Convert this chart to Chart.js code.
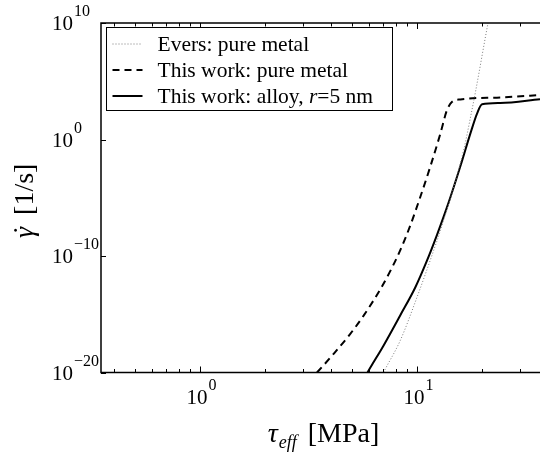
<!DOCTYPE html>
<html>
<head>
<meta charset="utf-8">
<script src="https://cdn.jsdelivr.net/npm/chart.js@4.4.1/dist/chart.umd.min.js"></script>
<style>
  html, body { margin: 0; padding: 0; background: #fff; }
  canvas { display: block; }
</style>
</head>
<body>
<canvas id="rateChart" width="540" height="452"></canvas>
<script>
// Values: tau_eff [MPa] vs strain rate [1/s]
const eversTau  = [7.01, 7.21, 8.37, 10.0, 11.94, 12.82, 16.41, 17.78, 18.62, 21.09, 21.26];
const eversRate = [1e-20, 2.7e-20, 5.4e-18, 2.8e-14, 3.0e-10, 1.5e-8, 0.12, 160, 1.3e4, 4.6e9, 1e10];

const pureTau  = [3.46, 3.52, 4.12, 4.92, 5.68, 6.78, 7.53, 8.37, 9.31, 10.35, 11.51, 12.82, 13.74, 14.52, 15.85, 24.2, 36.9];
const pureRate = [1e-20, 1.4e-20, 3.8e-19, 2.0e-17, 7.6e-16, 1.4e-13, 5.0e-12, 3.0e-10, 4.0e-8, 1.1e-5, 4.4e-3, 3.2, 320, 1700, 2750, 4100, 6500];

const alloyTau  = [5.92, 5.98, 7.01, 8.37, 9.82, 11.12, 12.36, 14.0, 15.85, 17.62, 18.92, 19.95, 24.2, 36.9];
const alloyRate = [1e-20, 1.4e-20, 2.0e-18, 7.9e-16, 2.0e-13, 4.0e-11, 6.3e-9, 4.0e-6, 5.0e-3, 3.2, 170, 1070, 1380, 2900];

const seriesLabels = ['Evers: pure metal', 'This work: pure metal', 'This work: alloy, '];

// tick labels (powers of ten)
const xTicks = [1, 10];
const xTickExp = ['0', '1'];
const yTicks = [1e-20, 1e-10, 1, 1e10];
const yTickExp = ['\u221220', '\u221210', '0', '10'];

const SERIF = '"Liberation Serif", "Times New Roman", serif';

function pairs(xs, ys) {
    return xs.map((x, i) => ({ x: x, y: ys[i] }));
}

// "10" with a raised exponent
function drawPow(ctx, exp, x, baseline, align) {
    ctx.font = '21px ' + SERIF;
    const wBase = ctx.measureText('10').width;
    ctx.font = '16px ' + SERIF;
    const wExp = ctx.measureText(exp).width;
    let start = x;
    if (align === 'center') start = x - (wBase + wExp) / 2;
    ctx.textAlign = 'left';
    ctx.textBaseline = 'alphabetic';
    ctx.font = '21px ' + SERIF;
    ctx.fillText('10', start, baseline);
    ctx.font = '16px ' + SERIF;
    ctx.fillText(exp, start + wBase + 1, baseline - 14);
}

const axesPlugin = {
    id: 'matlabAxes',
    afterDraw(chart) {
        const ctx = chart.ctx;
        const area = chart.chartArea;
        const xs = chart.scales.x;
        const ys = chart.scales.y;
        ctx.save();
        ctx.strokeStyle = '#000';
        ctx.fillStyle = '#000';
        ctx.lineWidth = 1.5;

        // box: top, left, bottom (right edge is cut off)
        ctx.beginPath();
        ctx.moveTo(area.right, area.top);
        ctx.lineTo(area.left, area.top);
        ctx.lineTo(area.left, area.bottom);
        ctx.lineTo(area.right, area.bottom);
        ctx.stroke();

        // x ticks, inward on bottom and top
        ctx.lineWidth = 1;
        for (let d = -1; d <= 1; d++) {
            for (let m = 1; m <= 9; m++) {
                const v = m * Math.pow(10, d);
                if (v < xs.min || v > xs.max) continue;
                const px = Math.round(xs.getPixelForValue(v)) + 0.5;
                const len = m === 1 ? 6 : 3.5;
                ctx.beginPath();
                ctx.moveTo(px, area.bottom);
                ctx.lineTo(px, area.bottom - len);
                ctx.moveTo(px, area.top);
                ctx.lineTo(px, area.top + len);
                ctx.stroke();
            }
        }
        // y ticks on labelled decades
        yTicks.forEach(v => {
            const py = Math.round(ys.getPixelForValue(v)) + 0.5;
            ctx.beginPath();
            ctx.moveTo(area.left, py);
            ctx.lineTo(area.left + 5, py);
            ctx.stroke();
        });

        // tick labels
        xTicks.forEach((v, i) => {
            drawPow(ctx, xTickExp[i], xs.getPixelForValue(v) + 1, area.bottom + 31, 'center');
        });
        yTicks.forEach((v, i) => {
            drawPow(ctx, yTickExp[i], area.left - 49, ys.getPixelForValue(v) + 7, 'left');
        });

        // x title: tau_eff [MPa]
        const cx = (area.left + area.right) / 2 + 3;
        ctx.textBaseline = 'alphabetic';
        ctx.textAlign = 'left';
        ctx.font = 'italic 28px ' + SERIF;
        const wTau = ctx.measureText('\u03c4').width;
        ctx.font = 'italic 18px ' + SERIF;
        const wSub = ctx.measureText('eff').width;
        ctx.font = '28px ' + SERIF;
        const wUnit = ctx.measureText('[MPa]').width;
        const gap = 12;
        const tx = cx - (wTau + wSub + gap + wUnit) / 2;
        const tBase = area.bottom + 69;
        ctx.font = 'italic 28px ' + SERIF;
        ctx.fillText('\u03c4', tx, tBase);
        ctx.font = 'italic 18px ' + SERIF;
        ctx.fillText('eff', tx + wTau + 1, tBase + 6);
        ctx.font = '28px ' + SERIF;
        ctx.fillText('[MPa]', tx + wTau + wSub + gap, tBase);

        // y title: gamma-dot [1/s], rotated
        ctx.save();
        ctx.translate(33, (area.top + area.bottom) / 2 + 3);
        ctx.rotate(-Math.PI / 2);
        ctx.font = 'italic 28px ' + SERIF;
        const wG = ctx.measureText('\u03b3').width;
        ctx.font = '28px ' + SERIF;
        const wU = ctx.measureText('[1/s]').width;
        const ygap = 12;
        const gx = -(wG + ygap + wU) / 2;
        ctx.font = 'italic 28px ' + SERIF;
        ctx.fillText('\u03b3', gx, 0);
        ctx.font = '28px ' + SERIF;
        ctx.textAlign = 'center';
        ctx.fillText('\u02d9', gx + wG / 2 + 2, -1);
        ctx.textAlign = 'left';
        ctx.fillText('[1/s]', gx + wG + ygap, 0);
        ctx.restore();

        // legend
        const lx = area.left + 5.5, ly = area.top + 4.5, lw = 286, lh = 83;
        ctx.fillStyle = '#fff';
        ctx.fillRect(lx, ly, lw, lh);
        ctx.strokeStyle = '#000';
        ctx.lineWidth = 1;
        ctx.strokeRect(lx, ly, lw, lh);
        chart.data.datasets.forEach((ds, i) => {
            const base = ly + 23 + i * 26;
            const ymid = base - 6.5;
            ctx.strokeStyle = ds.borderColor;
            ctx.lineWidth = ds.borderWidth;
            ctx.setLineDash(ds.borderDash || []);
            ctx.beginPath();
            ctx.moveTo(lx + 6, ymid);
            ctx.lineTo(lx + 36, ymid);
            ctx.stroke();
            ctx.setLineDash([]);
            ctx.fillStyle = '#000';
            ctx.font = '21.5px ' + SERIF;
            ctx.textAlign = 'left';
            ctx.fillText(ds.label, lx + 51, base);
            if (i === 2) {
                let ex = lx + 51 + ctx.measureText(ds.label).width;
                ctx.font = 'italic 21.5px ' + SERIF;
                ctx.fillText('r', ex, base);
                ex += ctx.measureText('r').width;
                ctx.font = '21.5px ' + SERIF;
                ctx.fillText('=5 nm', ex, base);
            }
        });
        ctx.restore();
    }
};

const chart = new Chart(document.getElementById('rateChart'), {
    type: 'line',
    data: {
        datasets: [
            {
                label: seriesLabels[0],
                data: pairs(eversTau, eversRate),
                borderColor: '#7a7a7a',
                borderWidth: 1,
                borderDash: [1, 2],
                pointRadius: 0,
                cubicInterpolationMode: 'monotone'
            },
            {
                label: seriesLabels[1],
                data: pairs(pureTau, pureRate),
                borderColor: '#000',
                borderWidth: 2,
                borderDash: [7, 5],
                pointRadius: 0,
                cubicInterpolationMode: 'monotone'
            },
            {
                label: seriesLabels[2],
                data: pairs(alloyTau, alloyRate),
                borderColor: '#000',
                borderWidth: 2,
                pointRadius: 0,
                cubicInterpolationMode: 'monotone'
            }
        ]
    },
    options: {
        responsive: false,
        animation: false,
        layout: { padding: { left: 101, top: 23, right: 0, bottom: 79.5 } },
        plugins: { legend: { display: false }, tooltip: { enabled: false } },
        scales: {
            x: { type: 'logarithmic', min: 0.35, max: 36.9, display: false },
            y: { type: 'logarithmic', min: 1e-20, max: 1e10, display: false }
        }
    },
    plugins: [axesPlugin]
});
</script>
</body>
</html>
